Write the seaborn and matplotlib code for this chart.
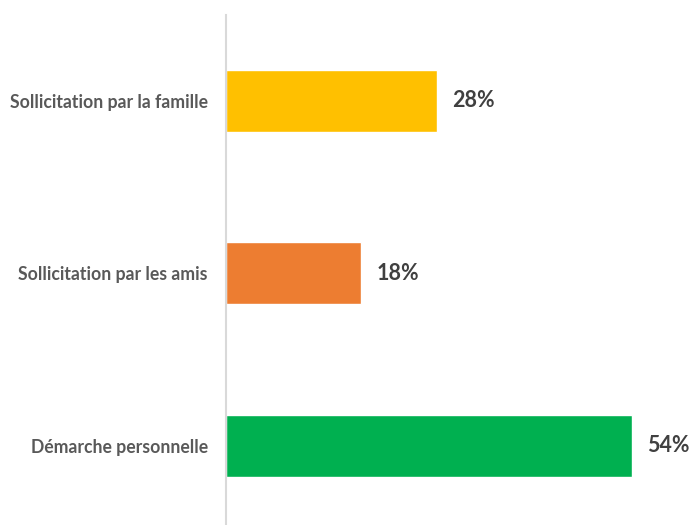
import matplotlib
matplotlib.use("Agg")
import matplotlib.pyplot as plt
import seaborn as sns
import pandas as pd

# Data
categories = ["Sollicitation par la famille", "Sollicitation par les amis", "Démarche personnelle"]
values = [28, 18, 54]
labels = ["28%", "18%", "54%"]
colors = ["#FFC000", "#ED7D31", "#00B050"]

sns.set_theme(style="white")
plt.rcParams['font.family'] = ['Lato', 'DejaVu Sans']

df = pd.DataFrame({"cat": categories, "val": values})

fig = plt.figure(figsize=(6.94, 5.25), dpi=100)
ax = fig.add_axes([226 / 694, 0, 0.65, 510 / 525])

sns.barplot(data=df, y="cat", x="val", hue="cat", palette=colors,
            width=0.36, saturation=1, legend=False, ax=ax)

for p, lab in zip(ax.patches, labels):
    ax.annotate(lab, (p.get_width(), p.get_y() + p.get_height() / 2),
                xytext=(11, 0), textcoords="offset points",
                ha="left", va="center", fontsize=15.5, fontweight="bold",
                color="#404040")

ax.set_xlim(0, 60)
ax.set_ylim(2.458, -0.496)
ax.set_xlabel("")
ax.set_ylabel("")
ax.set_xticks([])
ax.tick_params(axis="y", length=0, pad=13, labelsize=12.7, labelcolor="#595959")
for t in ax.get_yticklabels():
    t.set_fontweight("bold")

for s in ["top", "right", "bottom"]:
    ax.spines[s].set_visible(False)
ax.spines["left"].set_color("#D9D9D9")
ax.spines["left"].set_linewidth(1.5)

fig.savefig("out.png", dpi=100)
